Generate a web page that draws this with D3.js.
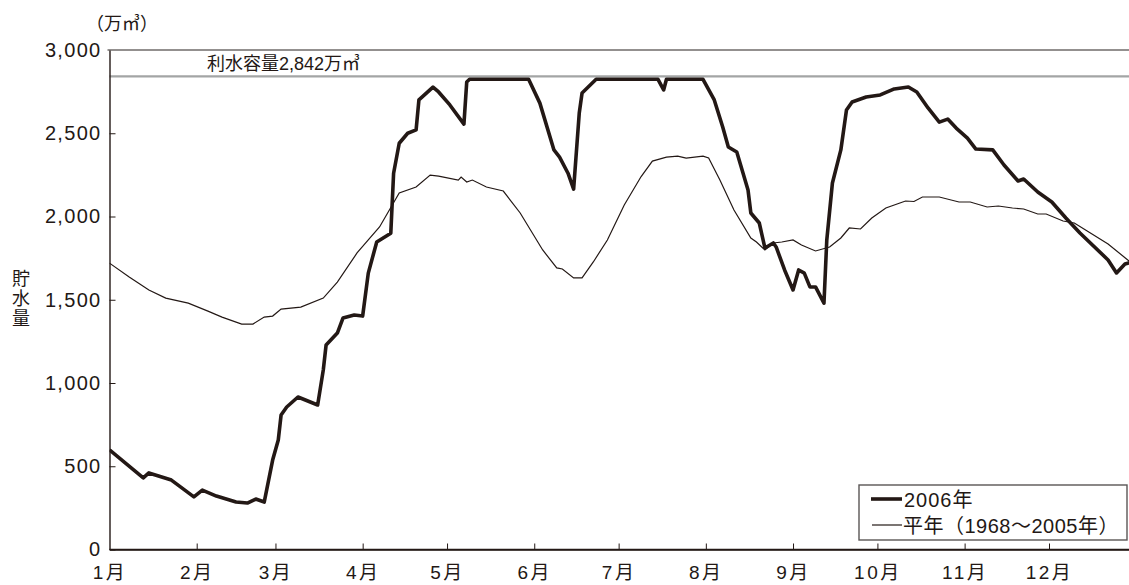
<!DOCTYPE html>
<html><head><meta charset="utf-8">
<script src="https://cdn.jsdelivr.net/npm/d3@7/dist/d3.min.js"></script>
<style>
body{margin:0;background:#fff;}
text{font-family:"Liberation Sans","Noto Sans CJK JP",sans-serif;fill:#231815;}
</style></head>
<body><svg id="c" width="1129" height="585"></svg>
<script>
// Month ticks (day of year) and labels
const monthDays = [0,31,59,90,120,151,181,212,243,273,304,334];
const monthLabels = ["1月","2月","3月","4月","5月","6月","7月","8月","9月","10月","11月","12月"];
const yTicks = [0,500,1000,1500,2000,2500,3000];
const capacity = 2842;

// 2006 series: day of year, storage (万m3)
const days2006 = [0,12,14,22,30,33,38,45,49,52,55,58,60,61,63,67,74,76,77,81,83,87,90,92,95,100,101,103,106,109,110,115,117,121,126,127,128,149,153,158,160,163,165,167,168,173,195,197,198,211,215,218,220,223,227,228,231,233,236,237,240,243,245,247,249,251,254,255,257,260,262,264,269,274,279,284,287,291,295,298,301,305,308,314,318,323,325,330,335,340,345,355,358,361,364];
const vals2006 = [598,430,460,417,316,357,321,285,279,303,285,537,658,808,856,916,868,1078,1228,1300,1390,1408,1402,1660,1847,1900,2260,2440,2500,2520,2700,2777,2748,2670,2555,2808,2824,2824,2681,2400,2357,2260,2165,2621,2742,2824,2824,2760,2824,2824,2700,2537,2417,2387,2159,2021,1961,1811,1841,1817,1679,1559,1679,1660,1577,1577,1480,1859,2201,2400,2640,2688,2718,2730,2766,2778,2748,2652,2567,2585,2531,2471,2405,2400,2309,2213,2225,2147,2087,1991,1901,1739,1661,1715,1730];

// Normal year (1968-2005) series
const daysAvg = [0,7,14,20,28,35,40,47,51,55,58,61,68,76,81,88,92,96,103,109,114,117,124,125,127,129,134,140,146,154,159,161,165,168,172,177,183,189,193,198,202,205,211,213,217,222,228,230,233,236,239,243,246,251,256,260,263,267,271,276,281,283,286,289,295,302,306,312,316,321,325,330,333,339,343,347,355,362,364];
const valsAvg = [1720,1637,1558,1510,1480,1432,1396,1354,1354,1396,1402,1444,1456,1510,1606,1781,1859,1937,2141,2177,2249,2243,2219,2237,2207,2219,2177,2153,2021,1799,1691,1685,1631,1631,1727,1859,2069,2240,2333,2357,2363,2351,2363,2351,2219,2039,1871,1847,1799,1841,1847,1859,1829,1793,1817,1871,1931,1925,1991,2051,2081,2093,2090,2117,2117,2087,2087,2057,2063,2051,2045,2015,2015,1973,1961,1919,1835,1739,1715];

const legendLabels = ["2006年","平年（1968〜2005年）"];

const svg = d3.select("#c");
const x = d3.scaleLinear().domain([0,365]).range([109.5,1136.2]);
const y = d3.scaleLinear().domain([0,3000]).range([549.5,50]);
const ink = "#231815";

// top frame line at 3000
svg.append("line").attr("x1",x(0)-2).attr("x2",1129).attr("y1",y(3000)).attr("y2",y(3000))
  .attr("stroke","#6f6b6a").attr("stroke-width",1.6);

// capacity line
svg.append("line").attr("x1",x(0)).attr("x2",1129).attr("y1",y(capacity)).attr("y2",y(capacity))
  .attr("stroke","#a3a5a5").attr("stroke-width",2.2);
svg.append("text").attr("x",207).attr("y",y(capacity)-6).attr("font-size",18)
  .text("利水容量2,842万㎥");

// y axis
const yAxis = d3.axisLeft(y).tickValues(yTicks).tickSizeInner(-6).tickSizeOuter(0)
  .tickFormat(d3.format(","));
const gy = svg.append("g").attr("transform",`translate(${x(0)},0)`).call(yAxis);
gy.select(".domain").attr("stroke",ink).attr("stroke-width",1.4);
gy.selectAll(".tick line").attr("stroke",ink).attr("stroke-width",1);
gy.selectAll(".tick text").attr("x",-8).attr("font-size",20).attr("letter-spacing","1.3px")
  .attr("fill",ink).style("font-family","'Liberation Sans',sans-serif");
gy.selectAll(".tick").filter(d=>d===3000).select("line").remove();

// x axis
const xAxis = d3.axisBottom(x).tickValues(monthDays).tickSizeInner(-6).tickSizeOuter(0)
  .tickFormat((d,i)=>monthLabels[i]);
const gx = svg.append("g").attr("transform",`translate(0,${y(0)})`).call(xAxis);
gx.select(".domain").attr("stroke",ink).attr("stroke-width",1.4);
gx.selectAll(".tick line").attr("stroke",ink).attr("stroke-width",1);
gx.selectAll(".tick").filter(d=>d===0).select("line").remove();
gx.selectAll(".tick text").attr("y",16).attr("font-size",19).attr("letter-spacing","2.5px").attr("fill",ink);
svg.append("line").attr("x1",x(0)).attr("x2",1129).attr("y1",y(0)).attr("y2",y(0))
  .attr("stroke",ink).attr("stroke-width",1.4);

// unit and axis title
svg.append("text").attr("x",86).attr("y",30).attr("font-size",18).text("（万㎥）");
const yt = svg.append("text").attr("x",21).attr("font-size",18).attr("text-anchor","middle");
["貯","水","量"].forEach((c,i)=>yt.append("tspan").attr("x",21).attr("y",285+i*20).text(c));

// lines
const line = d3.line().x(d=>x(d[0])).y(d=>y(d[1]));
svg.append("defs").append("clipPath").attr("id","clip").append("rect")
  .attr("x",x(0)).attr("y",0).attr("width",1129-x(0)).attr("height",585);
const avgData = daysAvg.map((d,i)=>[d,valsAvg[i]]);
const d2006 = days2006.map((d,i)=>[d,vals2006[i]]);
svg.append("path").datum(avgData).attr("d",line).attr("fill","none")
  .attr("stroke",ink).attr("stroke-width",1.2).attr("clip-path","url(#clip)");
svg.append("path").datum(d2006).attr("d",line).attr("fill","none")
  .attr("stroke",ink).attr("stroke-width",3.6).attr("stroke-linejoin","round").attr("clip-path","url(#clip)");

// legend
const lg = svg.append("g");
lg.append("rect").attr("x",859).attr("y",485).attr("width",268).attr("height",55)
  .attr("fill","#fff").attr("stroke","#5a5655").attr("stroke-width",1.4);
lg.append("line").attr("x1",871).attr("x2",902).attr("y1",499).attr("y2",499).attr("stroke",ink).attr("stroke-width",3.6);
lg.append("line").attr("x1",872).attr("x2",902).attr("y1",525).attr("y2",525).attr("stroke",ink).attr("stroke-width",1.2);
lg.append("text").attr("x",904).attr("y",507).attr("font-size",20).attr("letter-spacing","1px").text(legendLabels[0]);
lg.append("text").attr("x",903).attr("y",533).attr("font-size",20).attr("letter-spacing","0.5px").text(legendLabels[1]);
</script></body></html>
